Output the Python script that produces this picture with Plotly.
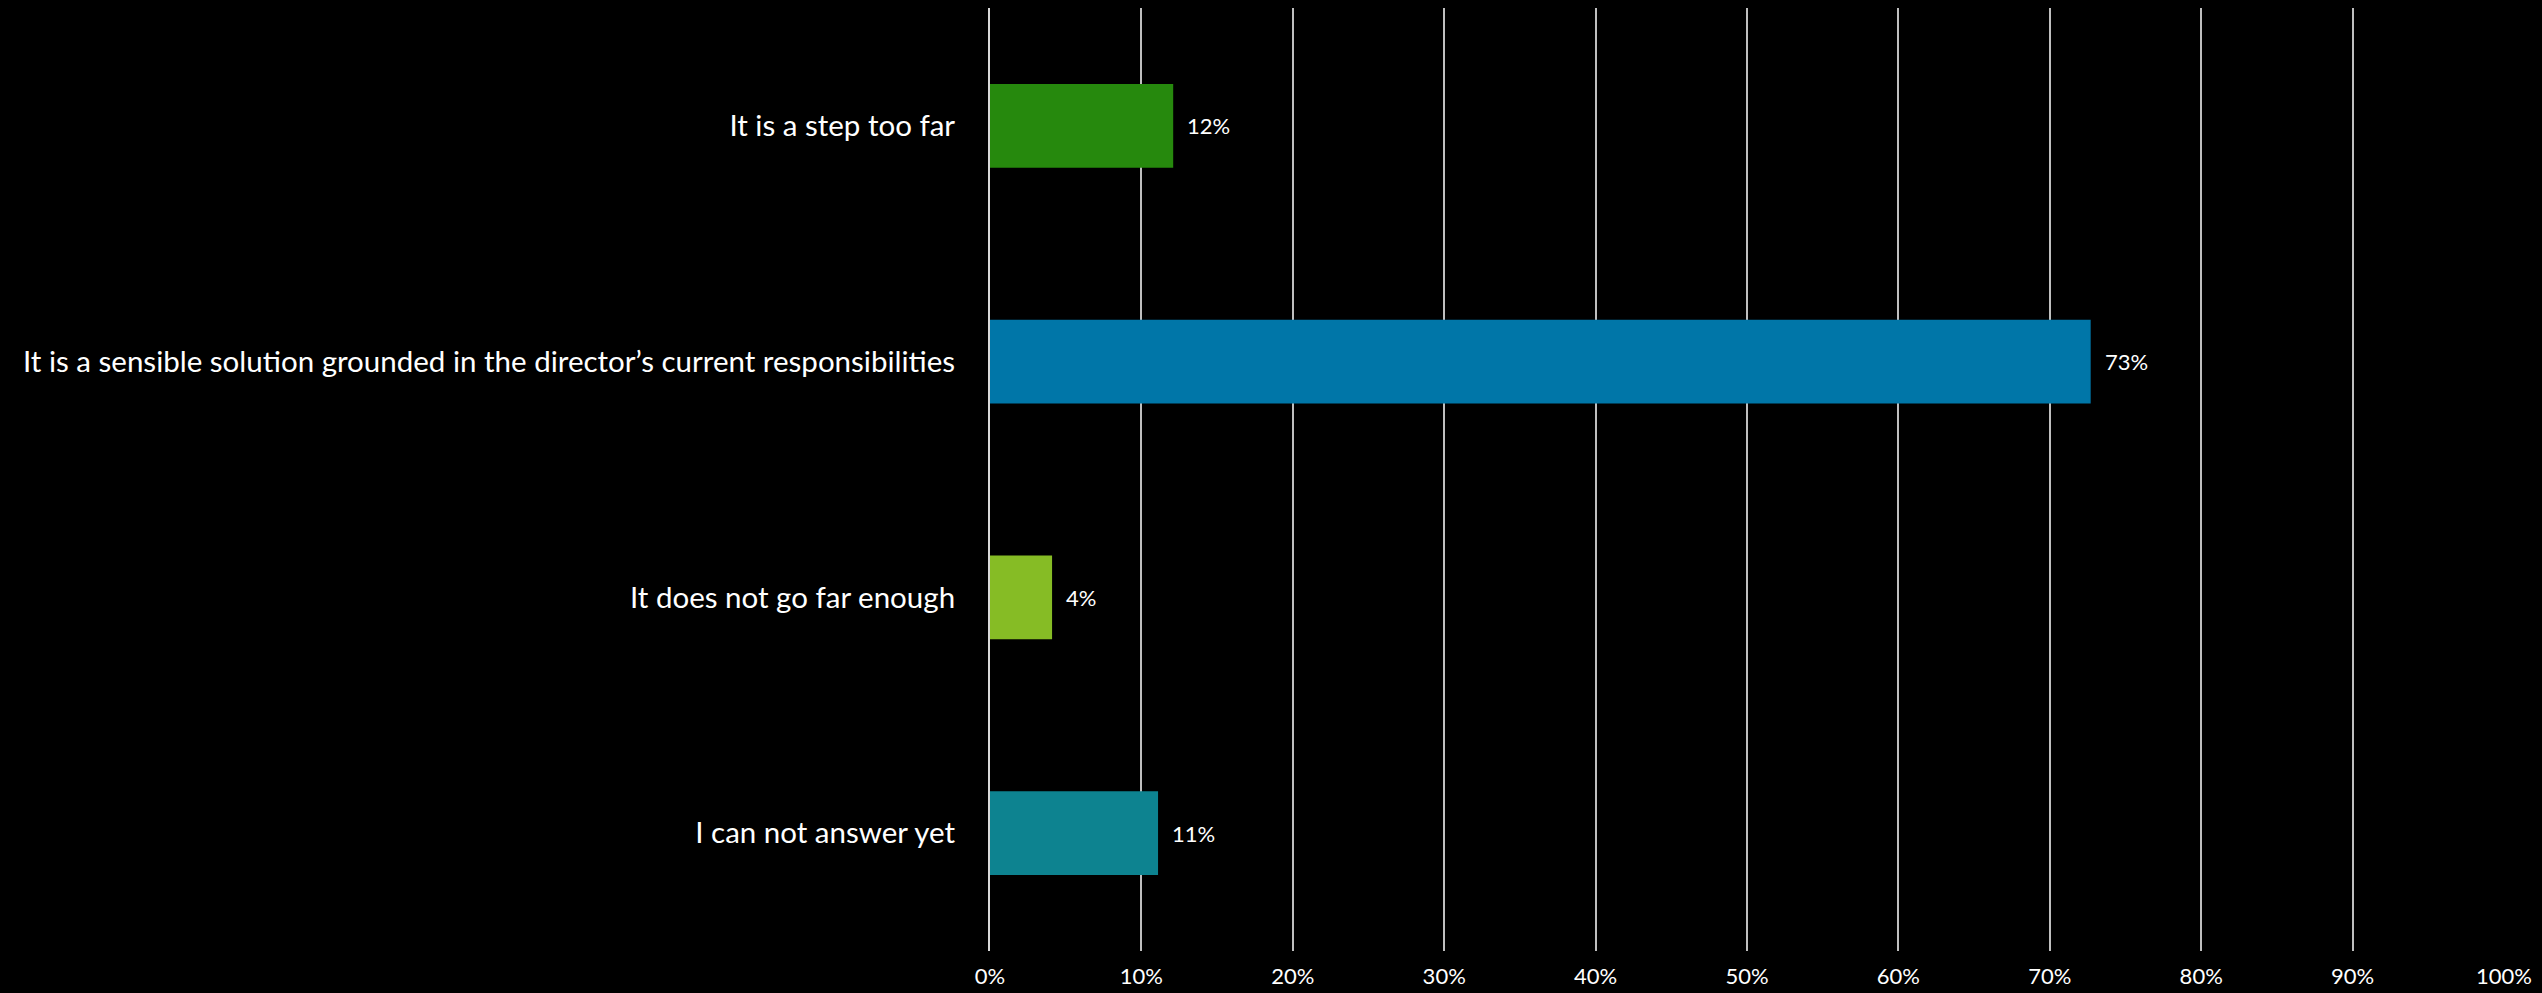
import plotly.graph_objects as go

categories = [
    "It is a step too far",
    "It is a sensible solution grounded in the director\u2019s current responsibilities",
    "It does not go far enough",
    "I can not answer yet",
]
values = [12.1, 72.7, 4.1, 11.1]
labels = ["12%", "73%", "4%", "11%"]
colors = ["#26890D", "#0076A8", "#86BC25", "#0D8390"]
tick_vals = [0, 10, 20, 30, 40, 50, 60, 70, 80, 90, 100]
tick_text = [f"{v}%" for v in tick_vals]

FONT = "Lato, Carlito, Calibri, sans-serif"

fig = go.Figure()
fig.add_trace(go.Bar(
    y=categories, x=values, orientation="h",
    marker=dict(color=colors, line=dict(width=0)),
    width=0.356, hoverinfo="skip",
))
for c, v, t in zip(categories, values, labels):
    fig.add_annotation(x=v, y=c, text=t, showarrow=False, xanchor="left",
                       xshift=12, font=dict(family=FONT, size=22, color="#FFFFFF"))

fig.update_layout(
    width=2542, height=993,
    paper_bgcolor="#000000", plot_bgcolor="#000000",
    margin=dict(l=990, r=38, t=8, b=42),
    showlegend=False,
    font=dict(family=FONT, color="#FFFFFF"),
    xaxis=dict(range=[0, 100], tickvals=tick_vals, ticktext=tick_text,
               showgrid=True, gridcolor="#BFBFBF", gridwidth=1.5,
               zeroline=False, showline=False, ticks="", automargin=False,
               tickfont=dict(family=FONT, size=22, color="#FFFFFF"),
               ticklabelstandoff=10, fixedrange=True),
    yaxis=dict(autorange="reversed", showgrid=False, zeroline=False,
               showline=True, linecolor="#D9D9D9", linewidth=2, ticks="",
               automargin=False,
               tickfont=dict(family=FONT, size=29.5, color="#FFFFFF"),
               ticklabelstandoff=27, fixedrange=True),
)
fig.write_html(
    "out.html",
    config={"displayModeBar": False},
    post_script="document.body.style.margin='0';document.body.style.background='#000000';",
)
